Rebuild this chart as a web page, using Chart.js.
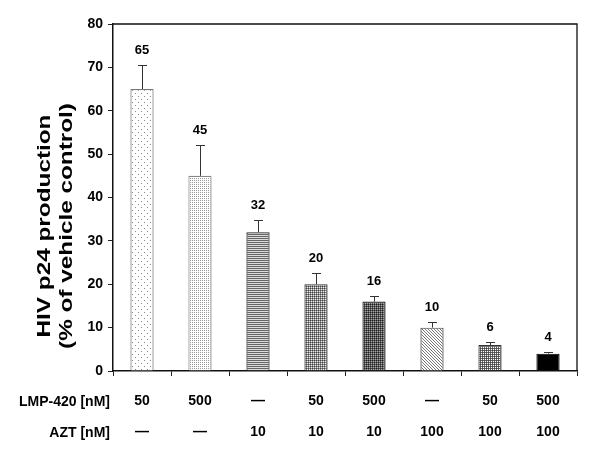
<!DOCTYPE html>
<html>
<head>
<meta charset="utf-8">
<script src="https://cdn.jsdelivr.net/npm/chart.js@4/dist/chart.umd.min.js"></script>
<style>
  html, body { margin: 0; padding: 0; background: #fff; }
  #wrap { width: 600px; height: 463px; }
</style>
</head>
<body>
<div id="wrap"><canvas id="p24Chart" width="600" height="463"></canvas></div>
<script>
// values
const lmpDoses = ['50', '500', '\u2014', '50', '500', '\u2014', '50', '500'];
const aztDoses = ['\u2014', '\u2014', '10', '10', '10', '100', '100', '100'];
const p24Values = [65, 45, 32, 20, 16, 10, 6, 4];
const p24Errors = [5.5, 7.0, 2.8, 2.7, 1.3, 1.2, 0.7, 0.4];
const yTickMin = 0, yTickMax = 80, yTickStep = 10;
const rowHeaders = ['LMP-420 [nM]', 'AZT [nM]'];

const FONT = '"Liberation Sans", Arial, sans-serif';

// small tiles for the hatched / dotted bar fills
function tile(w, h, cells) {
  const c = document.createElement('canvas');
  c.width = w; c.height = h;
  const g = c.getContext('2d');
  for (let y = 0; y < h; y++) {
    for (let x = 0; x < w; x++) {
      g.fillStyle = cells[y * w + x];
      g.fillRect(x, y, 1, 1);
    }
  }
  return g.createPattern(c, 'repeat');
}

const W = '#ffffff';
const fills = [
  // sparse dots
  tile(6, 6, [
    '#888', W, W, W, W, W,
    W, W, W, W, W, W,
    W, W, W, W, W, W,
    W, W, W, '#888', W, W,
    W, W, W, W, W, W,
    W, W, W, W, W, W
  ]),
  // fine dots
  tile(2, 2, ['#999', W, W, W]),
  // horizontal lines
  tile(1, 2, ['#666', '#dcdcdc']),
  // medium crosshatch
  tile(2, 2, ['#444', '#888', '#888', '#eee']),
  // dark crosshatch
  tile(2, 2, ['#222', '#555', '#555', '#aaa']),
  // diagonal hatching
  tile(3, 3, [
    '#777', W, W,
    W, '#777', W,
    W, W, '#777'
  ]),
  // grey with white dots
  tile(2, 2, ['#444', '#666', '#666', '#fff']),
  // solid black
  '#000'
];
const borders = ['#777', '#888', '#222', '#333', '#222', '#444', '#333', '#000'];

const errorBars = {
  id: 'errorBars',
  afterDatasetsDraw(chart) {
    const { ctx } = chart;
    const yScale = chart.scales.y;
    const meta = chart.getDatasetMeta(0);
    ctx.save();
    ctx.strokeStyle = '#333';
    ctx.lineWidth = 1;
    meta.data.forEach((bar, i) => {
      const x = Math.round(bar.x) + 0.5;
      const yTop = Math.round(yScale.getPixelForValue(p24Values[i] + p24Errors[i])) + 0.5;
      ctx.beginPath();
      ctx.moveTo(x, bar.y);
      ctx.lineTo(x, yTop);
      ctx.moveTo(x - 4.5, yTop);
      ctx.lineTo(x + 4.5, yTop);
      ctx.stroke();

      ctx.fillStyle = '#000';
      ctx.font = 'bold 13px ' + FONT;
      ctx.textAlign = 'center';
      ctx.textBaseline = 'middle';
      ctx.fillText(String(p24Values[i]), bar.x, yTop - 15);
    });
    ctx.restore();
  }
};

const frameAndText = {
  id: 'frameAndText',
  afterDraw(chart) {
    const { ctx, chartArea } = chart;
    ctx.save();
    // top and right frame
    ctx.strokeStyle = '#111';
    ctx.lineWidth = 1.3;
    ctx.beginPath();
    ctx.moveTo(chartArea.left, chartArea.top);
    ctx.lineTo(chartArea.right, chartArea.top);
    ctx.lineTo(chartArea.right, chartArea.bottom);
    ctx.stroke();

    // row headers of the dose table
    ctx.fillStyle = '#000';
    ctx.font = 'bold 14px ' + FONT;
    ctx.textAlign = 'right';
    ctx.textBaseline = 'middle';
    ctx.fillText(rowHeaders[0], 110, 402);
    ctx.fillText(rowHeaders[1], 110, 433);

    // rotated y axis title, two lines
    const lines = ['HIV p24 production', '(% of vehicle control)'];
    const xs = [45, 67];
    ctx.font = 'bold 19px ' + FONT;
    ctx.textAlign = 'center';
    lines.forEach((t, i) => {
      ctx.save();
      ctx.translate(xs[i], 226);
      ctx.rotate(-Math.PI / 2);
      ctx.scale(1.28, 1);
      ctx.fillText(t, 0, 0);
      ctx.restore();
    });
    ctx.restore();
  }
};

new Chart(document.getElementById('p24Chart'), {
  type: 'bar',
  data: {
    labels: lmpDoses.map((d, i) => [d, aztDoses[i]]),
    datasets: [{
      data: p24Values,
      backgroundColor: fills,
      borderColor: borders,
      borderWidth: 1.2,
      borderSkipped: 'bottom',
      barPercentage: 0.4,
      categoryPercentage: 1.0
    }]
  },
  options: {
    responsive: false,
    animation: false,
    layout: { padding: { left: 0, right: 23, top: 24, bottom: 0 } },
    plugins: {
      legend: { display: false },
      tooltip: { enabled: false },
      title: { display: false }
    },
    scales: {
      x: {
        afterFit(scale) { scale.height = 92; },
        grid: {
          display: true,
          drawOnChartArea: false,
          drawTicks: true,
          tickLength: 5,
          color: '#222',
          offset: true
        },
        border: { display: true, color: '#111', width: 1.5 },
        ticks: {
          color: '#000',
          padding: 10,
          maxRotation: 0,
          autoSkip: false,
          font: { family: FONT, size: 14, weight: 'bold', lineHeight: '31px' }
        }
      },
      y: {
        min: yTickMin,
        max: yTickMax,
        afterFit(scale) { scale.width = 113; },
        grid: {
          display: true,
          drawOnChartArea: false,
          drawTicks: true,
          tickLength: 5,
          color: '#222'
        },
        border: { display: true, color: '#111', width: 1.5 },
        ticks: {
          stepSize: yTickStep,
          color: '#000',
          padding: 5,
          font: { family: FONT, size: 14, weight: 'bold' }
        }
      }
    }
  },
  plugins: [errorBars, frameAndText]
});
</script>
</body>
</html>
